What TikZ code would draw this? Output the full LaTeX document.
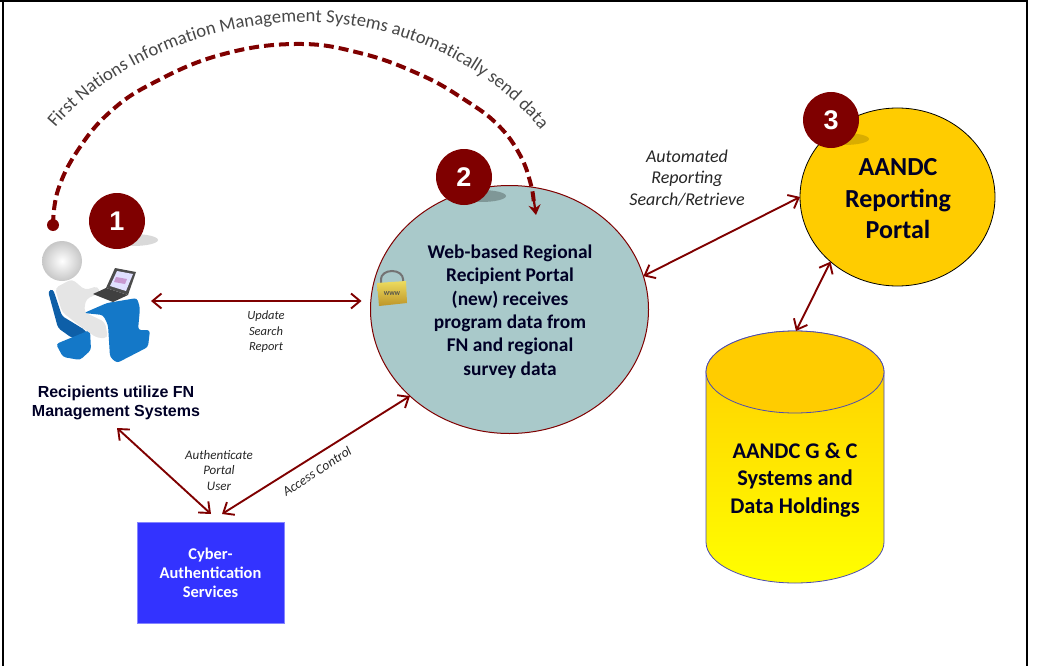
\documentclass[tikz,border=0pt]{standalone}
\usepackage{fontspec}
\setmainfont{Carlito}
\newfontfamily\arialf{Liberation Sans}
\usetikzlibrary{arrows.meta,decorations.text,shapes.geometric}
\definecolor{dred}{HTML}{7F0000}
\definecolor{teal1}{HTML}{A9C9CA}
\definecolor{gold1}{HTML}{FFCC00}
\definecolor{blue1}{HTML}{3333FF}
\definecolor{chair}{HTML}{1478C8}
\definecolor{chairD}{HTML}{0E5FA8}
\tikzset{
  every node/.style={inner sep=0pt,outer sep=0pt},
  link/.style={draw=dred,line width=1.9pt,{Straight Barb[length=9pt,width=15pt,line width=1.9pt]}-{Straight Barb[length=9pt,width=15pt,line width=1.9pt]}},
  badge/.style={circle,fill=dred,minimum size=56pt,text=white,font=\arialf\bfseries\fontsize{27}{27}\selectfont},
  portal/.style={ellipse,draw=dred,line width=1pt,fill=teal1,minimum width=278pt,minimum height=248pt},
  goldc/.style={ellipse,draw=black,line width=0.8pt,fill=gold1,minimum width=195pt,minimum height=178pt},
  bodytxt/.style={align=center,text=black!85!blue,font=\bfseries\fontsize{19.4}{23.4}\selectfont},
  smalli/.style={align=center,text=black!85,font=\itshape\fontsize{13}{15.4}\selectfont},
  shadowe/.style={ellipse,fill=black!15,minimum width=50pt,minimum height=12pt},
  frameline/.style={line width=2pt,draw=black},
  blueShape/.style={fill=chair,draw=none},
}
\begin{document}
\begin{tikzpicture}[x=1pt,y=-1pt]
\useasboundingbox (0,0) rectangle (1062,666);
% frame
\draw[frameline] (0,1) -- (1027,1);
\draw[frameline] (3,0) -- (3,666);
\draw[frameline] (1026.5,0) -- (1026.5,666);

% main shapes
\node[portal] (p2) at (509.5,309.5) {};
\node[goldc] (p3) at (897.5,197) {};

% cylinder
\path[top color=gold1,bottom color=yellow,draw=blue!40!gray,line width=0.8pt]
  (706,372) -- (706,542) arc[start angle=180,end angle=0,x radius=89,y radius=41]
  -- (884,372) arc[start angle=0,end angle=-180,x radius=89,y radius=41] -- cycle;
\path[fill=gold1,draw=blue!40!gray,line width=0.8pt] (795,372) ellipse[x radius=89,y radius=41];
\node[bodytxt,font=\bfseries\fontsize{22.4}{27.5}\selectfont] (db) at (795,480) {AANDC G \& C\\Systems and\\Data Holdings};
\coordinate (dbtop) at (796,331);

% cyber box
\node[fill=blue1,draw=blue1!60!white,line width=0.5pt,minimum width=147pt,minimum height=101pt,align=center,text=white,font=\bfseries\fontsize{16.4}{19}\selectfont] (cyber) at (210.5,572.5) {Cyber-\\Authentication\\Services};
\coordinate (cyberL) at (211,514);
\coordinate (cyberR) at (222,514);

% user figure
\node[minimum width=112pt,minimum height=130pt] (person) at (95,301) {};
\path[blueShape,fill=chairD,rounded corners=3pt] (48,291) -- (53,289) -- (62,316) -- (85,330) -- (90,338) -- (72,338) -- (58,328) -- cycle;
\path[blueShape,rounded corners=3pt] (56,344) -- (90,330) -- (91,350) -- (80,360) -- (63,357) -- cycle;
\path[fill=black!10,rounded corners=4pt] (55,288) -- (72,279) -- (85,290) -- (98,286) -- (100,293) -- (86,299) -- (84,312)
  -- (105,322) -- (108,338) -- (97,338) -- (80,326) -- (62,312) -- cycle;
\path[blueShape,rounded corners=3pt] (84,313) -- (107,303) -- (137,298) -- (140,308) -- (138,330) -- (150,330) -- (148,347) -- (117,363) -- (110,357) -- (108,325) -- (103,315) -- cycle;
\path[fill=black!75] (93,294) -- (106,288) -- (128,295) -- (113,302) -- cycle;
\path[fill=black!70] (106,288) -- (115,268) -- (136,272) -- (128,295) -- cycle;
\path[fill=blue!12] (110,286) -- (117,271) -- (133,274) -- (126,291) -- cycle;
\path[fill=red!45!blue!40] (116,277) -- (127,279) -- (125,284) -- (114,282) -- cycle;
\shade[inner color=white,outer color=black!22] (62,261) circle[radius=20];

% lock
\draw[black!55,line width=2pt] (381,283) -- (381,279) arc[start angle=180,end angle=360,x radius=11,y radius=8] -- (403,283);
\path[top color=brown!40!yellow!70!white,bottom color=brown!70!yellow!90!black] (377,283) -- (406,281) -- (407,303) -- (379,306) -- cycle;
\node[font=\bfseries\fontsize{6}{6}\selectfont,text=black!70] (www) at (392,294) {WWW};

% badges
\node[shadowe] (s1) at (133,240) {};
\node[badge] (b1) at (117,221) {1};
\node[shadowe,fill=black!25!teal1] (s2) at (481,196) {};
\node[shadowe,fill=black!15!gold1] (s3) at (844,139) {};
\node[badge] (b2) at (464,177) {2};
\node[badge] (b3) at (831,120) {3};

% dashed curved connector
\node[circle,fill=dred,minimum size=12pt] (origin) at (53,225) {};
\coordinate (portalin) at (536,215);
\draw[dred,line width=4pt,dash pattern=on 10pt off 5pt] plot[smooth,tension=0.7] coordinates
  {(53,225) (58,190) (78,150) (110,112) (153,83) (220,55) (295,44) (360,53) (421,75) (465,100) (498,125) (520,155) (531,185) (534,206)};
\draw[dred,line width=2.2pt,-{Stealth[length=10pt,width=12pt]}] (533.5,198) -- (portalin);

% text along arc
\path[decorate,decoration={text along path,text align=center,
  text={|\color{black!72}\fontsize{18.6}{19}\selectfont|First Nations Information Management Systems automatically send data}}]
  (48,137) .. controls (100,68) and (205,22) .. (306,22) .. controls (405,22) and (495,68) .. (548,139);

% connectors
\draw[link,shorten >=9pt,shorten <=0pt] (person.east) -- (person.east -| p2.west);
\draw[link] (p2.14) -- (p3.180);
\draw[link] (dbtop) -- (p3.224);
\node[align=center,text=black!85!blue,font=\arialf\bfseries\fontsize{16}{19}\selectfont] (rec) at (116,403) {Recipients utilize FN\\Management Systems};
\coordinate (recb) at (117,428);
\draw[link] (recb) -- (cyberL);
\draw[link] (cyberR) -- (p2.221.6);

% labels
\node[smalli,font=\itshape\fontsize{18}{21.5}\selectfont] (l1) at (687,178) {Automated\\Reporting\\Search/Retrieve};
\node[smalli,font=\itshape\fontsize{12.5}{15.5}\selectfont] (l2) at (266,332) {Update\\Search\\Report};
\node[smalli] (l3) at (219,470.5) {Authenticate\\Portal\\User};
\node[smalli,font=\itshape\fontsize{13.5}{15}\selectfont,rotate=33] (l4) at (317,471) {Access Control};

% box texts
\node[bodytxt] (t2) at (510,311.5) {Web-based Regional\\Recipient Portal\\(new) receives\\program data from\\FN and regional\\survey data};
\node[bodytxt,font=\bfseries\fontsize{26}{31.5}\selectfont] (t3) at (898,199) {AANDC\\Reporting\\Portal};
\end{tikzpicture}
\end{document}
